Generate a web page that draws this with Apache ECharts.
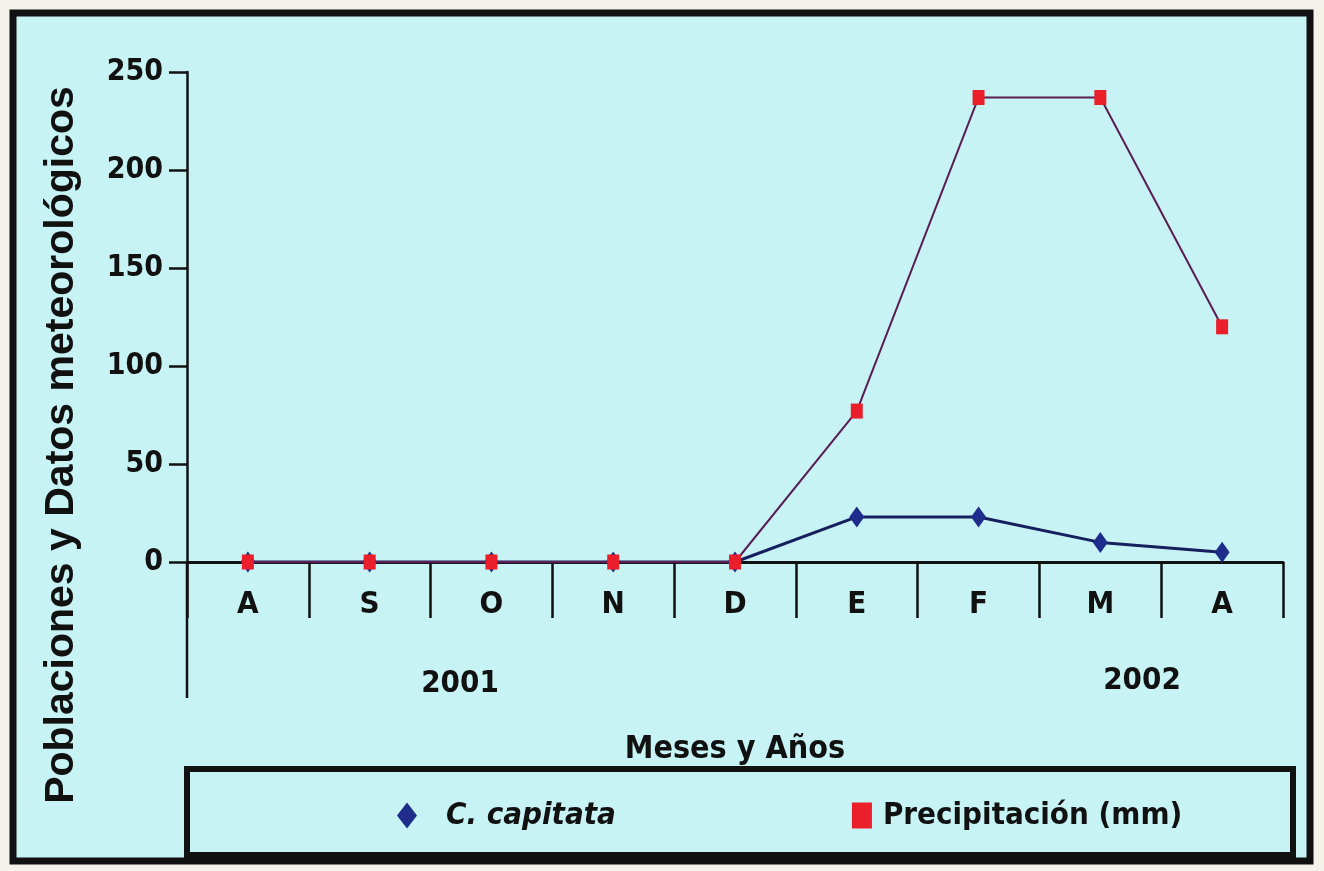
<!DOCTYPE html>
<html>
<head>
<meta charset="utf-8">
<title>Poblaciones de C. capitata y precipitación</title>
<script src="https://cdn.jsdelivr.net/npm/echarts@6/dist/echarts.min.js"></script>
<style>
  html, body { margin: 0; padding: 0; background: #f3f3ec; }
  #chart { width: 1324px; height: 871px; }
</style>
</head>
<body>
<div id="chart"></div>
<script>
// Meses (agosto 2001 – abril 2002)
const months = ['A', 'S', 'O', 'N', 'D', 'E', 'F', 'M', 'A'];
// Población de C. capitata por mes
const capitata = [0, 0, 0, 0, 0, 23, 23, 10, 5];
// Precipitación mensual (mm)
const precipitacion = [0, 0, 0, 0, 0, 77, 237, 237, 120];
// Años bajo el eje
const years = ['2001', '2002'];
const yTicks = { min: 0, max: 250, step: 50 };

const NARROW = "'Liberation Sans Narrow', 'Arial Narrow', 'DejaVu Sans Condensed', sans-serif";
const WIDE = "'Liberation Sans', Arial, sans-serif";
const BG = '#c7f3f5';

const chart = echarts.init(document.getElementById('chart'));

const option = {
  backgroundColor: '#f3f3ec',
  animation: false,
  grid: { left: 187, right: 41, top: 72, bottom: 309, containLabel: false },
  xAxis: {
    type: 'category',
    data: months,
    boundaryGap: true,
    name: 'Meses y Años',
    nameLocation: 'middle',
    nameGap: 172,
    nameTextStyle: { fontFamily: NARROW, fontWeight: 'bold', fontSize: 32, color: '#111' },
    axisLine: { lineStyle: { color: '#111', width: 3 } },
    axisTick: { show: true, alignWithLabel: false, length: 56, lineStyle: { color: '#111', width: 2.5 } },
    axisLabel: { fontFamily: NARROW, fontWeight: 'bold', fontSize: 31, color: '#111', margin: 27 },
    splitLine: { show: false }
  },
  yAxis: {
    type: 'value',
    min: yTicks.min,
    max: yTicks.max,
    interval: yTicks.step,
    axisLine: { show: true, lineStyle: { color: '#111', width: 2.5 } },
    axisTick: { show: true, length: 18, lineStyle: { color: '#111', width: 2.5 } },
    axisLabel: { fontFamily: NARROW, fontWeight: 'bold', fontSize: 30, color: '#111', margin: 24 },
    splitLine: { show: false }
  },
  legend: {
    left: 392,
    top: 795,
    itemGap: 236,
    itemWidth: 20,
    itemHeight: 26,
    textStyle: { fontFamily: NARROW, fontWeight: 'bold', fontSize: 31, color: '#111' },
    data: [
      { name: 'C. capitata', icon: 'diamond', textStyle: { fontStyle: 'italic', padding: [0, 0, 0, 24] } },
      { name: 'Precipitación (mm)', icon: 'rect', textStyle: { padding: [8, 0, 0, 6] } }
    ]
  },
  series: [
    {
      name: 'C. capitata',
      type: 'line',
      data: capitata,
      symbol: 'diamond',
      symbolSize: [15, 21],
      lineStyle: { color: '#16205e', width: 3 },
      itemStyle: { color: '#1e2d8c' },
      z: 3
    },
    {
      name: 'Precipitación (mm)',
      type: 'line',
      data: precipitacion,
      symbol: 'rect',
      symbolSize: [12, 15],
      lineStyle: { color: '#5a1e52', width: 2 },
      itemStyle: { color: '#ea1f2b' },
      z: 4
    }
  ]
};

chart.setOption(option);

// Frame, legend box, y-axis extension and year labels placed from the axes
const step = chart.convertToPixel({ xAxisIndex: 0 }, 1) - chart.convertToPixel({ xAxisIndex: 0 }, 0);
const axisX = chart.convertToPixel({ xAxisIndex: 0 }, 0) - step / 2;
const yZero = chart.convertToPixel({ yAxisIndex: 0 }, 0);

chart.setOption({
  graphic: [
    {
      type: 'rect', z: -10, silent: true,
      shape: { x: 13, y: 13, width: 1297, height: 848 },
      style: { fill: BG, stroke: '#111', lineWidth: 7 }
    },
    {
      type: 'line', z: 1, silent: true,
      shape: { x1: axisX, y1: yZero, x2: axisX, y2: yZero + 136 },
      style: { stroke: '#111', lineWidth: 2.5 }
    },
    {
      type: 'text', z: 5, silent: true,
      x: 460, y: 684,
      style: { text: years[0], fontFamily: NARROW, fontWeight: 'bold', fontSize: 31, fill: '#111', align: 'center', verticalAlign: 'middle' }
    },
    {
      type: 'text', z: 5, silent: true,
      x: 1142, y: 681,
      style: { text: years[1], fontFamily: NARROW, fontWeight: 'bold', fontSize: 31, fill: '#111', align: 'center', verticalAlign: 'middle' }
    },
    {
      type: 'text', z: 5, silent: true,
      x: 62, y: 445, rotation: Math.PI / 2,
      style: { text: 'Poblaciones y Datos meteorológicos', fontFamily: WIDE, fontWeight: 'bold', fontSize: 41, fill: '#111', align: 'center', verticalAlign: 'middle' }
    },
    {
      type: 'rect', z: -5, silent: true,
      shape: { x: 187, y: 769, width: 1106, height: 86 },
      style: { fill: BG, stroke: '#111', lineWidth: 6 }
    }
  ]
});
</script>
</body>
</html>
